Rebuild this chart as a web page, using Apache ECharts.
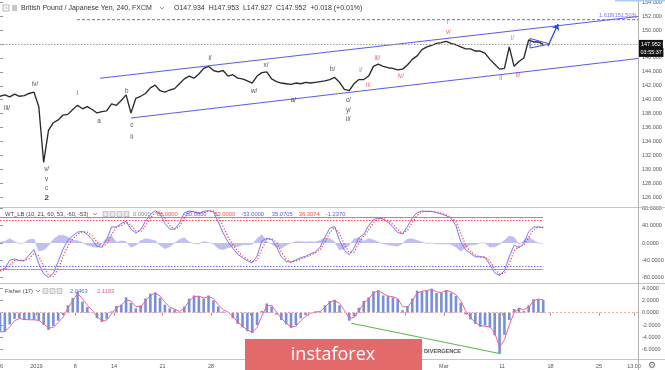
<!DOCTYPE html>
<html><head><meta charset="utf-8">
<script src="https://cdn.jsdelivr.net/npm/echarts@6/dist/echarts.min.js"></script>
<style>html,body{margin:0;padding:0;background:#fff}#c{width:665px;height:370px}</style>
</head><body><div id="c"></div>
<script>
// ---- data (sampled every half trading day) ----
const priceValues = [140.5,140.7,140.4,140.8,140.5,140.6,140.9,141.1,139.0,131.0,
135.6,136.7,137.1,137.8,137.9,138.6,139.2,138.7,139.0,138.6,
138.1,138.3,138.4,139.4,139.2,139.9,140.7,138.1,140.2,140.5,
140.9,141.7,142.1,141.3,141.1,141.4,141.6,142.3,143.0,143.4,
143.1,143.7,144.5,144.8,144.2,144.0,144.2,143.4,143.6,143.1,
143.0,142.7,142.4,143.4,143.9,144.0,143.0,142.6,142.4,142.3,
142.2,142.4,142.3,142.5,142.4,142.5,142.6,142.7,142.9,143.2,
142.5,141.5,141.3,142.3,142.9,142.9,143.4,144.8,145.1,144.8,
144.6,144.5,144.3,144.4,145.0,145.8,146.3,147.2,147.6,147.8,
148.1,148.2,148.4,148.1,147.9,147.6,147.3,147.3,147.0,147.0,
146.7,145.8,145.1,144.4,144.5,147.6,144.8,145.5,146.0,148.6,
148.3,148.3,147.952];
const wt1Values = [-62,-58.6,-40,-37,-41,-41,-28,-15,-48,-71,
-80,-70,-43,-14,6,17,25,27,20,8,
-8,-10,8,37,37,45,50,32,23,31,
50,66,75,67,45,32,32,46,70,74,
72,68,73,75,72,49,23,3,-12,-26,
-34,-41,-46,-30,5,11,8,-8,-32,-43,
-44,-39,-34,-31,-25,-21,-10,14,34,38,
6,-17,-27,-12,12,20,40,54,58,55,
48,37,24,21,38,58,70,74,73,73,
70,67,63,57,40,3,-16,-24,-32,-32,
-33,-50,-69,-75,-64,-32,-5,-11,0,26,
37,37,35.0705];
const wt2Values = [-64,-62,-50,-40,-40,-41,-36,-24,-30,-55,
-74,-78,-60,-32,-7,10,20,26,25,16,
2,-8,-3,20,36,40,47,42,28,26,
40,58,70,72,58,40,32,38,58,72,
73,70,70,74,74,62,38,14,-4,-18,
-30,-37,-43,-40,-14,8,10,2,-20,-38,
-44,-42,-37,-33,-28,-23,-16,2,24,36,
22,-4,-22,-21,0,16,30,47,56,57,
52,43,31,22,29,48,64,72,74,73,
72,69,65,60,49,22,-6,-20,-28,-32,
-33,-41,-60,-72,-70,-48,-18,-8,-5,13,
31,37,36.3074];
const wtHistValues = [2,3.4,10,3,-1,0,8,9,-18,-16,
-6,8,17,18,13,7,5,1,-5,-8,
-10,-2,11,17,1,5,3,-10,-5,5,
10,8,5,-5,-13,-8,0,8,12,2,
-1,-2,3,1,-2,-13,-15,-11,-8,-8,
-4,-4,-3,10,19,3,-2,-10,-12,-5,
0,3,3,2,3,2,6,12,10,2,
-16,-13,-5,9,12,4,10,7,2,-2,
-4,-6,-7,-1,9,10,6,2,-1,0,
-2,-2,-2,-3,-9,-19,-10,-4,-4,0,
0,-9,-9,-3,6,16,13,-3,5,13,
6,0,-1.237];
const fisherValues = [-3.1,-3.1,-1.9,-1.0,-0.9,-1.2,-1.1,-1.2,-1.3,-2.0,
-2.8,-2.2,-1.3,-0.4,1.2,2.4,3.4,1.8,0.9,0.1,
-0.9,-1.5,-1.0,0.2,1.1,1.3,2.5,1.6,0.7,1.2,
2.3,3.1,3.3,2.4,1.3,0.7,0.5,0.1,1.0,2.3,
2.8,2.7,2.3,2.8,2.0,1.0,0.2,0.0,-0.9,-1.8,
-2.4,-3.0,-3.3,-2.0,0.3,1.5,1.0,-0.3,-1.2,-1.9,
-2.5,-2.0,-0.9,-0.4,0.0,0.2,0.2,1.2,1.9,2.1,
1.2,0.0,-1.3,-0.6,0.8,1.9,2.5,3.5,3.6,2.8,
2.7,2.5,2.2,0.4,1.1,2.3,3.6,3.5,3.6,3.9,
3.2,3.3,3.7,3.2,2.7,1.6,-0.3,-1.1,-1.8,-2.3,
-2.1,-2.4,-3.7,-6.6,-3.6,-1.2,0.6,0.8,0.3,1.2,
2.2,2.2,2.0463];
const fisherTriggerValues = [-3.1,-3.1,-2.3,-1.3,-0.95,-1.1,-1.15,-1.15,-1.25,-1.8,
-2.5,-2.4,-1.6,-0.7,0.7,2.0,3.1,2.3,1.2,0.4,
-0.6,-1.3,-1.2,-0.2,0.8,1.2,2.1,1.9,1.0,1.0,
1.9,2.8,3.2,2.7,1.7,0.9,0.6,0.2,0.7,1.9,
2.6,2.7,2.4,2.6,2.3,1.3,0.5,0.1,-0.6,-1.5,
-2.2,-2.8,-3.2,-2.4,-0.5,1.1,1.2,0.1,-0.9,-1.7,
-2.3,-2.2,-1.3,-0.6,-0.1,0.1,0.2,0.9,1.7,2.0,
1.5,0.4,-0.9,-0.8,0.3,1.5,2.3,3.2,3.6,3.1,
2.7,2.6,2.3,1.0,0.9,1.9,3.2,3.5,3.6,3.8,
3.4,3.3,3.6,3.4,2.9,2.0,0.3,-0.8,-1.6,-2.1,
-2.2,-2.3,-3.3,-5.6,-4.4,-2.0,0.0,0.7,0.5,0.9,
1.9,2.2,2.1193];
const priceTicks = [126,128,130,132,134,136,138,140,142,144,146,148,150,152,154];
const wtTicks = [-80,-40,0,40,80];
const fisherTicks = [-6,-4,-2,0,2,4];
const dateTickDays = [0,3.75,7.75,11.75,16.75,21.75,25.75,31.75,36.75,41.75,45.75,51.75,56.75,61.75,65.36];
const dateTickLabels = ['26','2019','8','14','21','28','Feb','11','18','25','Mar','11','18','25','13:00'];
// Elliott wave labels: [day, price, text]
const blackWaveLabels = [[0.72,138.77,'iii/'],[3.61,142.22,'iv/'],[7.97,140.93,'i'],[10.21,136.84,'a'],
 [13.06,141.26,'b'],[13.58,136.37,'c'],[13.58,134.6,'ii'],[4.81,130.0,'v/'],[4.81,128.57,'v'],[4.81,127.28,'c'],
 [21.65,145.95,'i/'],[27.42,144.99,'x/'],[26.19,141.26,'w/'],[30.24,139.86,'a/'],[34.3,144.37,'b/'],
 [35.91,139.86,'c/'],[35.91,138.53,'y/'],[35.91,137.19,'ii/']];
const boldWaveLabels = [[4.81,125.98,'2']];
const redWaveLabels = [[37.19,144.27,'i/'],[37.97,142.02,'ii/'],[38.9,145.95,'iii/'],[41.31,143.31,'iv/'],
 [46.15,151.07,'i'],[46.22,149.63,'v/'],[51.62,143.08,'ii'],[52.84,148.8,'i/'],[53.4,143.51,'ii/']];
const upperChannel = [[10.31,143.08],[65.77,151.96]];
const lowerChannel = [[13.5,137.38],[65.77,145.93]];
const fibLevel = 151.503;
const fibStart = 7.94;
const arrowPath = [[56.49,147.72],[57.53,150.88]];
const trianglePath = [[54.64,148.8],[56.7,148.01],[54.64,147.43],[54.64,148.8]];
const divergenceLine = [[36.22,-1.72],[51.61,-6.67]];
const timeLeft = '03:55:37';

// ---- chart ----
const STEP = 0.5, X_MAX = 65.77, FONT = 'Liberation Sans';
const toXY = a => a.map((v,i)=>[i*STEP, v]);
const lastX = (priceValues.length-1)*STEP;
const lastPrice = priceValues[priceValues.length-1];
const dateMap = {}; dateTickDays.forEach((d,i)=>dateMap[d.toFixed(2)] = dateTickLabels[i]);
const BLUE = '#5b5bf2', RED = '#e8403a';

function xAx(g){
  const bottom = g===2;
  return {gridIndex:g, type:'value', min:0, max:X_MAX, show:bottom,
    axisLine:{show:false}, splitLine:{show:false},
    axisTick: bottom?{show:true, customValues:dateTickDays, length:3, lineStyle:{color:'#999'}}:{show:false},
    axisLabel: bottom?{show:true, customValues:dateTickDays, formatter:v=>dateMap[v.toFixed(2)]||'', fontSize:5.5, color:'#555', margin:4, fontFamily:FONT}:{show:false}};
}
function yAx(g,min,max,ticks,dec){
  return {gridIndex:g, type:'value', position:'right', min:min, max:max, scale:true,
    axisLine:{show:false}, splitLine:{show:false},
    axisTick:{show:true, customValues:ticks, length:3, lineStyle:{color:'#999'}},
    axisLabel:{show:true, customValues:ticks, formatter:v=>v.toFixed(dec), fontSize:5.5, color:'#555', margin:4, fontFamily:FONT}};
}
function labelSeries(data, color, size, weight){
  return {type:'scatter', xAxisIndex:0, yAxisIndex:0, symbolSize:1, itemStyle:{color:'transparent'}, silent:true, z:6,
    data:data, label:{show:true, position:'inside', formatter:p=>p.data[2], color:color, fontSize:size, fontWeight:weight||'normal', fontFamily:FONT}};
}

const chart = echarts.init(document.getElementById('c'), null, {renderer:'canvas'});
const hdrVals = [['0.0000','#888'],['60.0000','#ff4d4d'],['-60.0000',BLUE],['53.0000','#ff4d4d'],['-53.0000',BLUE],
  [wt1Values.at(-1).toFixed(4),BLUE],[wt2Values.at(-1).toFixed(4),'#ff4d4d'],[wtHistValues.at(-1).toFixed(4),BLUE]];
const hdrX = [133,156.7,183.7,214.2,241.2,271.7,298.7,325.7];
const icon = (x,y) => ({type:'rect', shape:{x:x,y:y,width:5,height:5}, style:{fill:'#e6e6e6', stroke:'#aaa', lineWidth:0.6}, z:50});
const chevron = (x,y) => ({type:'polyline', shape:{points:[[x,y],[x+2,y+2],[x+4,y]]}, style:{stroke:'#666', lineWidth:0.7, fill:null}, z:50});

chart.setOption({
  animation:false,
  backgroundColor:'#ffffff',
  grid:[
    {left:0, right:27, top:0, height:207, outerBoundsMode:'none'},
    {left:0, right:27, top:207, height:76, outerBoundsMode:'none'},
    {left:0, right:27, top:283, height:76, outerBoundsMode:'none'}
  ],
  xAxis:[xAx(0),xAx(1),xAx(2)],
  yAxis:[yAx(0,124.59,154.33,priceTicks,3), yAx(1,-92.5,83.2,wtTicks,4), yAx(2,-7.53,4.83,fisherTicks,4)],
  series:[
    {type:'line', name:'price', xAxisIndex:0, yAxisIndex:0, data:toXY(priceValues), showSymbol:false, z:3,
      lineStyle:{color:'#2a2a2a', width:1.35},
      markLine:{silent:true, symbol:'none', data:[{yAxis:lastPrice}],
        lineStyle:{color:'#9a9a9a', type:[1.5,1.5], width:1},
        label:{show:true, position:'end', distance:1, offset:[0,4],
          formatter:'{a|'+lastPrice.toFixed(3)+'}\n{b|'+timeLeft+'}',
          rich:{a:{backgroundColor:'#111', color:'#fff', fontSize:5.5, padding:[1.5,2,1.5,2], fontFamily:FONT, lineHeight:8},
                b:{backgroundColor:'#111', color:'#fff', fontSize:5.5, padding:[1.5,1.5,1.5,1.5], fontFamily:FONT, lineHeight:8}}}}},
    {type:'line', xAxisIndex:0, yAxisIndex:0, data:upperChannel, showSymbol:false, lineStyle:{color:BLUE, width:1.1}, silent:true},
    {type:'line', xAxisIndex:0, yAxisIndex:0, data:lowerChannel, showSymbol:false, lineStyle:{color:BLUE, width:1.1}, silent:true,
      markLine:{silent:true, symbol:['none','arrow'], symbolSize:6, label:{show:false},
        lineStyle:{color:'#2448ee', width:1.3, type:'solid'},
        data:[[{coord:arrowPath[0]},{coord:arrowPath[1]}]]}},
    {type:'line', xAxisIndex:0, yAxisIndex:0, data:[[fibStart,fibLevel],[X_MAX,fibLevel]], showSymbol:false, silent:true,
      lineStyle:{color:'#6a6af5', width:1, type:[3,2]}},
    {type:'line', xAxisIndex:0, yAxisIndex:0, data:trianglePath, showSymbol:false, silent:true,
      lineStyle:{color:'#4a4af0', width:1}},
    {type:'scatter', xAxisIndex:0, yAxisIndex:0, symbolSize:1, itemStyle:{color:'transparent'}, silent:true, z:6,
      data:[[65.6,152.1,'1.618('+fibLevel.toFixed(3)+')']],
      label:{show:true, position:'inside', align:'right', formatter:p=>p.data[2], color:'#5050f0', fontSize:5.5, fontFamily:FONT}},
    labelSeries(blackWaveLabels,'#222',6.3),
    labelSeries(boldWaveLabels,'#111',8,'bold'),
    labelSeries(redWaveLabels,RED,6.3),
    // WT_LB
    {type:'line', xAxisIndex:1, yAxisIndex:1, data:toXY(wtHistValues), showSymbol:false, silent:true,
      lineStyle:{width:0.6, color:'#b9b9f3'}, areaStyle:{color:'#b4b4f2', opacity:0.85}},
    {type:'line', xAxisIndex:1, yAxisIndex:1, data:toXY(wt1Values), showSymbol:false, silent:true, z:4,
      lineStyle:{color:'#7474ff', width:1},
      markLine:{silent:true, symbol:'none', label:{show:false}, data:[
        [{coord:[0,60], lineStyle:{color:'#ff6a6a', type:'solid', width:1}},{coord:[lastX,60]}],
        [{coord:[0,53], lineStyle:{color:'#ff4a4a', type:[1.5,1.5], width:1}},{coord:[lastX,53]}],
        [{coord:[0,-60], lineStyle:{color:'#9a9af5', type:'solid', width:1}},{coord:[lastX,-60]}],
        [{coord:[0,-53], lineStyle:{color:'#6d6df0', type:[1.5,1.5], width:1.2}},{coord:[lastX,-53]}]]}},
    {type:'line', xAxisIndex:1, yAxisIndex:1, data:toXY(wt2Values), showSymbol:false, silent:true, z:5,
      lineStyle:{color:'#ff3838', width:1.2, type:[1.2,1.8]}},
    // Fisher
    {type:'bar', xAxisIndex:2, yAxisIndex:2, data:toXY(fisherValues), barWidth:2.6, silent:true,
      itemStyle:{color:'#7790da'},
      markLine:{silent:true, symbol:'none', label:{show:false}, data:[{yAxis:0}],
        lineStyle:{color:'#f6a9a9', type:[2,2], width:1}}},
    {type:'line', xAxisIndex:2, yAxisIndex:2, data:toXY(fisherTriggerValues), showSymbol:false, silent:true, z:4,
      lineStyle:{color:'#f0609a', width:1}},
    {type:'line', xAxisIndex:2, yAxisIndex:2, data:divergenceLine, showSymbol:false, silent:true, z:4,
      lineStyle:{color:'#62b44e', width:1.1}},
    {type:'scatter', xAxisIndex:2, yAxisIndex:2, symbolSize:1, itemStyle:{color:'transparent'}, silent:true, z:4,
      data:[[47.53,-6.23,'BULLISH DIVERGENCE']],
      label:{show:true, position:'inside', align:'right', formatter:p=>p.data[2], color:'#222', fontSize:5.6, fontWeight:'bold', fontFamily:FONT}}
  ],
  graphic:[
    {type:'line', shape:{x1:0,y1:207.5,x2:665,y2:207.5}, style:{stroke:'#c4c4c4', lineWidth:1}, z:40},
    {type:'line', shape:{x1:0,y1:283.5,x2:665,y2:283.5}, style:{stroke:'#c4c4c4', lineWidth:1}, z:40},
    {type:'line', shape:{x1:0,y1:359.5,x2:665,y2:359.5}, style:{stroke:'#c4c4c4', lineWidth:1}, z:40},
    {type:'line', shape:{x1:638.5,y1:0,x2:638.5,y2:370}, style:{stroke:'#b0b0b0', lineWidth:1}, z:40},
    {type:'rect', shape:{x:615,y:0,width:50,height:1.5}, style:{fill:'#a8cbf5'}, z:40},
    {type:'rect', shape:{x:3,y:5,width:6,height:6}, style:{fill:'#fff', stroke:'#999', lineWidth:0.7}, z:50},
    {type:'line', shape:{x1:4.5,y1:8,x2:7.5,y2:8}, style:{stroke:'#999', lineWidth:0.7}, z:50},
    {type:'rect', shape:{x:12,y:5,width:5,height:6}, style:{fill:'#c8c8c8'}, z:50},
    {type:'text', x:21, y:8, style:{text:'British Pound / Japanese Yen, 240, FXCM', fontSize:7, fill:'#333', fontFamily:FONT, verticalAlign:'middle'}, z:50},
    chevron(160,7),
    {type:'text', x:174, y:8, style:{text:'O147.934  H147.953  L147.927  C147.952  +0.018 (+0.01%)', fontSize:7, fill:'#333', fontFamily:FONT, verticalAlign:'middle'}, z:50},
    {type:'text', x:5, y:214, style:{text:'WT_LB (10, 21, 60, 53, -60, -53)', fontSize:5.8, fill:'#444', fontFamily:FONT, verticalAlign:'middle'}, z:50},
    chevron(93,213), icon(103,211.5), icon(110,211.5), icon(117,211.5), icon(124,211.5),
    ...hdrVals.map((h,i)=>({type:'text', x:hdrX[i], y:214, style:{text:h[0], fontSize:5.8, fill:h[1], fontFamily:FONT, verticalAlign:'middle'}, z:50})),
    {type:'text', x:5, y:291, style:{text:'Fisher (17)', fontSize:5.8, fill:'#444', fontFamily:FONT, verticalAlign:'middle'}, z:50},
    chevron(36,290), icon(43,288.5), icon(50,288.5), icon(57,288.5),
    {type:'text', x:70, y:291, style:{text:fisherValues.at(-1).toFixed(4), fontSize:5.8, fill:'#4a6bd6', fontFamily:FONT, verticalAlign:'middle'}, z:50},
    {type:'text', x:97, y:291, style:{text:fisherTriggerValues.at(-1).toFixed(4), fontSize:5.8, fill:'#ee4f8f', fontFamily:FONT, verticalAlign:'middle'}, z:50},
    {type:'rect', shape:{x:245,y:339,width:177,height:31}, style:{fill:'#e26a6a'}, z:60},
    {type:'text', x:333, y:355, style:{text:'instaforex', fontSize:18, fill:'#ffffff', fontFamily:'Open Sans', align:'center', verticalAlign:'middle'}, z:61},
    {type:'text', x:652, y:366, style:{text:'\u2699', fontSize:9, fill:'#666', fontFamily:'DejaVu Sans', align:'center', verticalAlign:'middle'}, z:50}
  ]
});
</script></body></html>
